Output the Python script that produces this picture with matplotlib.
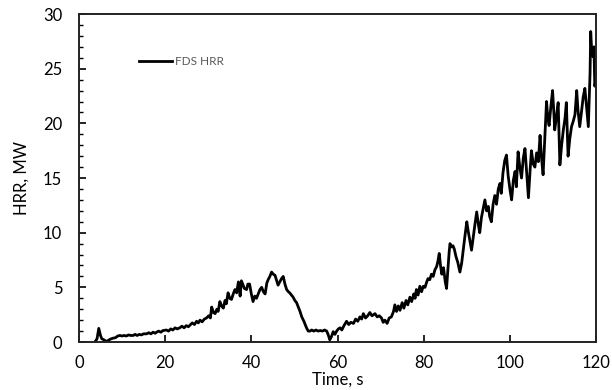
import matplotlib
matplotlib.use('Agg')
import matplotlib.pyplot as plt
from matplotlib.ticker import MultipleLocator

plt.rcParams['font.family'] = ['Lato', 'DejaVu Sans']

# FDS heat release rate
time_s = [3.7, 4.2, 4.6, 5.0, 5.3, 5.8, 6.4, 7.0, 7.5, 7.9, 8.5, 9.0, 9.5, 10.0, 10.5,
          11.0, 11.5, 12.0, 12.6, 13.0, 13.5, 14.0, 14.5, 15.0, 15.7, 16.2, 16.7, 17.2,
          17.7, 18.0, 18.5, 19.0, 19.5, 20.3, 20.8, 21.3, 21.8, 22.3, 22.8, 23.4, 23.9,
          24.4, 24.9, 25.4, 25.8, 26.3, 26.8, 27.3, 27.7, 28.1, 28.6, 29.1, 29.6, 30.1,
          30.5, 30.8, 31.2, 31.6, 32.0, 32.3, 32.7, 33.1, 33.5, 33.9, 34.2, 34.6, 35.0,
          35.4, 35.8, 36.2, 36.6, 37.0, 37.2, 37.4, 37.7, 38.0, 38.4, 38.9, 39.2, 39.6,
          40.0, 40.4, 40.8, 41.2, 41.6, 42.0, 42.4, 42.8, 43.2, 43.6, 43.9, 44.3, 44.7,
          45.1, 45.5, 45.9, 46.2, 46.6, 47.0, 47.4, 47.8, 48.2, 48.6, 48.9, 49.3, 49.7,
          50.1, 50.5, 50.9, 51.3, 51.7, 52.2, 52.8, 53.2, 53.6, 54.0, 54.5, 55.0, 55.5,
          56.0, 56.5, 57.0, 57.5, 57.9, 58.2, 58.6, 59.0, 59.4, 59.8, 60.2, 60.6, 61.0,
          61.5, 62.1, 62.6, 63.1, 63.7, 64.2, 64.7, 65.2, 65.6, 66.0, 66.5, 67.0, 67.5,
          68.0, 68.7, 69.2, 69.7, 70.2, 70.6, 71.0, 71.5, 72.0, 72.5, 73.0, 73.3, 73.7,
          74.1, 74.5, 75.0, 75.4, 75.9, 76.3, 76.8, 77.2, 77.7, 78.0, 78.3, 78.7, 79.1,
          79.5, 79.9, 80.3, 80.7, 81.0, 81.4, 81.8, 82.2, 82.6, 83.0, 83.3, 83.6, 83.9,
          84.2, 84.6, 85.0, 85.3, 85.6, 85.9, 86.1, 86.5, 86.8, 87.1, 87.5, 87.9, 88.4,
          88.8, 89.2, 89.6, 90.0, 90.3, 90.7, 91.1, 91.5, 91.9, 92.3, 92.7, 93.0, 93.4,
          93.8, 94.2, 94.6, 95.0, 95.3, 95.7, 96.1, 96.5, 96.9, 97.3, 97.7, 98.0, 98.4,
          98.8, 99.2, 99.6, 100.0, 100.4, 100.8, 101.2, 101.5, 101.9, 102.3, 102.7, 103.1,
          103.5, 103.9, 104.3, 104.7, 105.0, 105.4, 105.8, 106.2, 106.6, 107.0, 107.3,
          107.7, 108.1, 108.5, 108.8, 109.1, 109.5, 109.9, 110.2, 110.4, 110.8, 111.2,
          111.6, 112.0, 112.4, 112.8, 113.1, 113.5, 113.9, 114.3, 114.7, 115.1, 115.5,
          115.8, 116.2, 116.6, 117.0, 117.4, 117.8, 118.2, 118.5, 118.6, 118.75, 119.0,
          119.3, 119.5, 119.7, 120.0]
hrr_mw = [0.0, 0.3, 1.25, 0.6, 0.3, 0.2, 0.05, 0.2, 0.3, 0.35, 0.4, 0.55, 0.6, 0.55, 0.6,
          0.55, 0.65, 0.6, 0.6, 0.7, 0.6, 0.7, 0.65, 0.75, 0.75, 0.85, 0.75, 0.9,
          0.8, 0.9, 1.0, 0.9, 1.05, 1.1, 1.0, 1.2, 1.1, 1.3, 1.2, 1.3, 1.45,
          1.3, 1.5, 1.4, 1.55, 1.75, 1.6, 1.9, 1.75, 2.0, 1.85, 2.1, 2.2, 2.4,
          2.2, 3.2, 2.7, 2.6, 3.0, 2.8, 3.7, 3.3, 3.1, 3.8, 3.5, 4.5, 4.0,
          3.9, 4.4, 4.8, 4.5, 5.5, 4.9, 4.2, 5.6, 5.3, 4.9, 4.8, 5.3, 5.3,
          4.4, 3.7, 4.2, 4.0, 4.4, 4.8, 5.0, 4.6, 4.4, 5.4, 5.7, 6.0, 6.4,
          6.2, 6.1, 5.6, 5.2, 5.5, 5.8, 6.0, 5.3, 4.8, 4.6, 4.5, 4.3, 4.1,
          3.8, 3.6, 3.2, 2.8, 2.3, 1.9, 1.3, 1.0, 1.0, 1.1, 1.0, 1.1, 1.0,
          1.05, 1.0, 1.1, 1.0, 0.6, 0.2, 0.5, 0.95, 0.7, 1.0, 1.2, 1.3, 1.1,
          1.5, 1.9, 1.6, 1.8, 1.7, 2.1, 1.9, 2.3, 2.1, 2.6, 2.2, 2.4, 2.7,
          2.4, 2.6, 2.3, 2.4, 2.2, 1.8, 2.0, 1.7, 2.2, 2.3, 2.8, 3.4, 2.8,
          3.3, 2.9, 3.6, 3.1, 3.8, 3.4, 4.1, 3.7, 4.4, 4.0, 4.8, 4.3, 5.1,
          4.6, 5.1, 5.0, 5.5, 5.8, 5.7, 6.2, 6.0, 6.6, 6.9, 7.4, 8.1, 7.0,
          6.2, 6.8, 5.5, 4.9, 6.5, 8.2, 9.0, 8.7, 8.8, 8.5, 7.8, 7.3, 6.4,
          7.2, 8.5, 9.8, 11.0, 10.2, 9.3, 8.4, 9.6, 10.8, 11.9, 10.7, 10.0, 11.4,
          12.2, 13.0, 12.0, 12.4, 11.5, 11.0, 12.6, 13.4, 12.6, 14.0, 14.5, 13.6, 15.5,
          16.6, 17.1, 15.2, 14.0, 13.0, 14.8, 15.6, 14.2, 17.4, 16.0, 15.0, 16.8,
          17.7, 15.5, 13.2, 15.8, 17.5, 16.3, 16.0, 17.3, 16.5, 18.9, 17.0,
          15.3, 18.6, 22.0, 20.5, 19.8, 21.5, 23.0, 21.0, 19.4, 20.6, 21.9,
          16.2, 18.0, 19.4, 20.5, 21.9, 17.0, 18.6, 19.7, 20.2, 20.8, 23.0,
          21.2, 19.7, 21.0, 22.4, 23.2, 21.5, 19.7, 23.5, 24.6, 28.4, 26.5,
          26.1, 27.0, 23.4, 24.0]

xticks = [0, 20, 40, 60, 80, 100, 120]
yticks = [0, 5, 10, 15, 20, 25, 30]

fig = plt.figure(figsize=(6.12, 3.9), dpi=100)
ax = fig.add_axes([0.129, 0.123, 0.845, 0.841])

ax.plot(time_s, hrr_mw, color='black', lw=2.0, label='FDS HRR')

ax.set_xlim(0, 120)
ax.set_ylim(0, 30)
ax.set_xticks(xticks)
ax.set_yticks(yticks)
ax.yaxis.set_minor_locator(MultipleLocator(1))
ax.tick_params(axis='both', which='major', direction='in', length=5, width=1.2,
               labelsize=12, colors='black')
ax.tick_params(axis='y', which='major', pad=12)
ax.tick_params(axis='x', which='major', pad=9)
ax.tick_params(axis='y', which='minor', direction='in', length=3, width=1.0)
for s in ax.spines.values():
    s.set_linewidth(1.4)
    s.set_color('#222222')

ax.set_xlabel('Time, s', fontsize=12, labelpad=1)
ax.set_ylabel('HRR, MW', fontsize=12, labelpad=10)

ax.legend(loc='upper left', bbox_to_anchor=(0.095, 0.905), frameon=False,
          fontsize=8.5, handlelength=2.8, handletextpad=0.3,
          labelcolor='#595959')

fig.savefig('out.png', dpi=100)
